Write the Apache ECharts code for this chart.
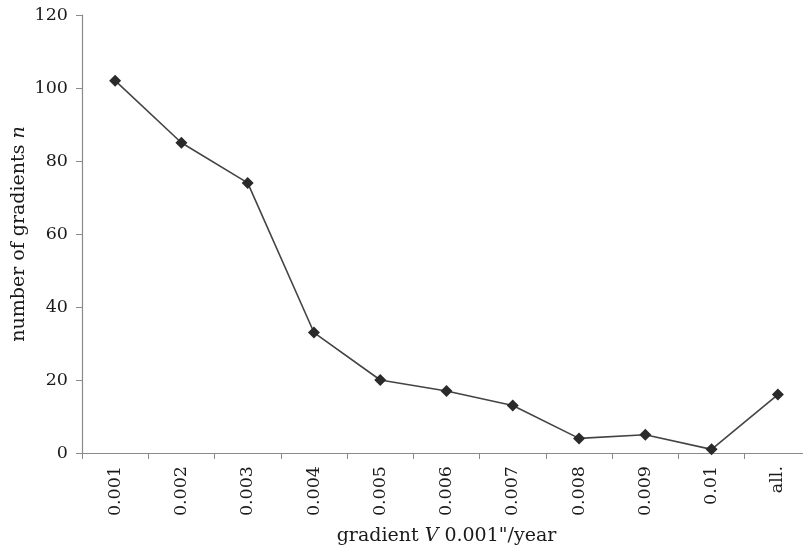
<!DOCTYPE html>
<html><head><meta charset="utf-8">
<script src="https://cdn.jsdelivr.net/npm/echarts@6/dist/echarts.min.js"></script>
<style>html,body{margin:0;padding:0;background:#fff}#c{width:803px;height:553px}</style>
</head><body><div id="c"></div>
<script>
const categories = ['0.001','0.002','0.003','0.004','0.005','0.006','0.007','0.008','0.009','0.01','all.'];
const counts = [102, 85, 74, 33, 20, 17, 13, 4, 5, 1, 16];
const yTicks = [0, 20, 40, 60, 80, 100, 120];
const F = 'DejaVu Serif';
const C = '#1a1a1a';
const chart = echarts.init(document.getElementById('c'));
chart.setOption({
  backgroundColor: '#fff',
  animation: false,
  grid: { left: 82, top: 15, width: 729, bottom: 100, containLabel: false, outerBoundsMode: 'none' },
  xAxis: {
    type: 'category', data: categories, boundaryGap: true,
    axisLine: { lineStyle: { color: '#8a8a8a', width: 1.2 } },
    axisTick: { show: true, length: 6, lineStyle: { color: '#8a8a8a' }, alignWithLabel: false },
    axisLabel: { rotate: 90, margin: 13, color: C, fontFamily: F, fontSize: 17.5, interval: 0 },
    name: '{a|gradient }{i|V}{a| 0.001"/year}',
    nameLocation: 'middle', nameGap: 74,
    nameTextStyle: { rich: {
      a: { fontFamily: F, fontSize: 19, color: C },
      i: { fontFamily: F, fontSize: 19, color: C, fontStyle: 'italic' }
    } }
  },
  yAxis: {
    type: 'value', min: yTicks[0], max: yTicks[yTicks.length - 1], interval: 20,
    axisLine: { show: true, lineStyle: { color: '#8a8a8a', width: 1.2 } },
    axisTick: { show: true, inside: false, length: 6, lineStyle: { color: '#8a8a8a' } },
    splitLine: { show: false },
    axisLabel: { margin: 14, color: C, fontFamily: F, fontSize: 17.5 },
    name: '{a|number of gradients }{i|n}',
    nameLocation: 'middle', nameGap: 53, nameRotate: 90, nameMoveOverlap: false,
    nameTextStyle: { rich: {
      a: { fontFamily: F, fontSize: 19, color: C },
      i: { fontFamily: F, fontSize: 19, color: C, fontStyle: 'italic' }
    } }
  },
  series: [{
    type: 'line', data: counts,
    symbol: 'diamond', symbolSize: 12,
    lineStyle: { color: '#444', width: 1.6 },
    itemStyle: { color: '#2a2a2a' }
  }]
});
</script></body></html>
